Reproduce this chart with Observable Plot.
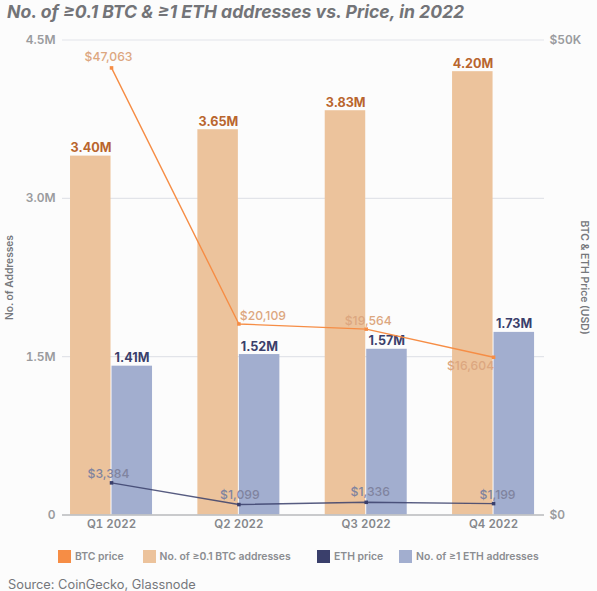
<!DOCTYPE html>
<html>
<head>
<meta charset="utf-8">
<script src="https://cdn.jsdelivr.net/npm/d3@7"></script>
<script src="https://cdn.jsdelivr.net/npm/@observablehq/plot@0.6"></script>
<style>
  html, body { margin: 0; padding: 0; background: #fcfcfc; }
  body { width: 597px; height: 591px; overflow: hidden; font-family: Inter, sans-serif; position: relative; }
  #title { position: absolute; left: 7px; top: 0; height: 24px; line-height: 24px; font-size: 17.6px; font-weight: 700; font-style: italic; color: #737478; white-space: nowrap; }
  #chart { position: absolute; left: 0; top: 30px; }
  #chart svg { background: transparent; display: block; }
  .lg { position: absolute; top: 550px; height: 13px; line-height: 13px; font-size: 10.4px; font-weight: 600; color: #8b8d91; white-space: nowrap; }
  .lg i { display: inline-block; width: 13px; height: 13px; vertical-align: top; margin-right: 4px; }
  #source { position: absolute; left: 8px; top: 577px; font-size: 12.8px; line-height: 16px; color: #75777b; }
</style>
</head>
<body>
<div id="title">No. of ≥0.1 BTC &amp; ≥1 ETH addresses vs. Price, in 2022</div>
<div id="chart"></div>
<div id="legend"></div>
<div id="source">Source: CoinGecko, Glassnode</div>
<script>
const quarters = ["Q1 2022", "Q2 2022", "Q3 2022", "Q4 2022"];
const btcAddresses = [3.40e6, 3.65e6, 3.83e6, 4.20e6];
const ethAddresses = [1.41e6, 1.52e6, 1.57e6, 1.73e6];
const btcPrice = [47063, 20109, 19564, 16604];
const ethPrice = [3384, 1099, 1336, 1199];
const leftTicks = [0, 1.5e6, 3.0e6, 4.5e6];
const leftTickLabels = ["0", "1.5M", "3.0M", "4.5M"];
const priceTicks = [0, 50000];
const priceTickLabels = ["$0", "$50K"];

const colors = { btcLine: "#f68d45", btcBar: "#ecc39c", ethLine: "#3a3f6b", ethBar: "#a2aecf",
                 btcText: "#b9652e", ethText: "#3a3f6b", btcPriceText: "#dca780", ethPriceText: "#80849f" };

// Secondary axis: $50K sits level with 4.5M
const priceToY = 4.5e6 / 50000;
const barW = 0.322;
const idx = quarters.map((_, i) => i);

const btcOffsets = [[-3, -11], [24, -8], [2, -8], [-23, 9]];
const ethOffsets = [[-3, -9], [1, -9], [4, -10], [4, -9]];

const priceLabels = (values, offsets, fill) => idx.map(i =>
  Plot.text([i], {
    x: d => d, y: d => values[d] * priceToY,
    text: d => "$" + d3.format(",")(values[d]),
    dx: offsets[i][0], dy: offsets[i][1],
    fill, fontSize: 12.2, fontWeight: 500
  }));

const chart = Plot.plot({
  width: 597, height: 510,
  marginLeft: 62, marginRight: 53, marginTop: 9.5, marginBottom: 25.5,
  style: { fontFamily: "Inter, sans-serif", background: "transparent" },
  x: { type: "linear", domain: [-0.385, 3.4], axis: null },
  y: { domain: [0, 4.5e6], axis: null },
  marks: [
    Plot.ruleY(leftTicks.slice(1), { stroke: "#e2e4e9", strokeWidth: 1.2 }),
    Plot.rectY(idx, { x1: i => i - barW, x2: i => i, y1: 0, y2: i => btcAddresses[i], fill: colors.btcBar, insetRight: 0.5 }),
    Plot.rectY(idx, { x1: i => i, x2: i => i + barW, y1: 0, y2: i => ethAddresses[i], fill: colors.ethBar, insetLeft: 0.5 }),
    Plot.ruleY([0], { stroke: "#b9babc", strokeWidth: 1.6 }),
    Plot.text(idx, { x: i => i - barW / 2, y: i => btcAddresses[i], text: i => (btcAddresses[i] / 1e6).toFixed(2) + "M",
      dy: -8, fill: colors.btcText, fontSize: 12.6, fontWeight: 700 }),
    Plot.text(idx, { x: i => i + barW / 2, y: i => ethAddresses[i], text: i => (ethAddresses[i] / 1e6).toFixed(2) + "M",
      dy: -8, fill: colors.ethText, fontSize: 12.6, fontWeight: 700 }),
    Plot.lineY(idx, { x: i => i, y: i => btcPrice[i] * priceToY, stroke: colors.btcLine, strokeWidth: 1.4 }),
    Plot.dot(idx, { x: i => i, y: i => btcPrice[i] * priceToY, symbol: "square", r: 2, fill: colors.btcLine }),
    Plot.lineY(idx, { x: i => i, y: i => ethPrice[i] * priceToY, stroke: colors.ethLine, strokeWidth: 1.4, strokeOpacity: 0.85 }),
    Plot.dot(idx, { x: i => i, y: i => ethPrice[i] * priceToY, symbol: "square", r: 2, fill: colors.ethLine }),
    ...priceLabels(btcPrice, btcOffsets, colors.btcPriceText),
    ...priceLabels(ethPrice, ethOffsets, colors.ethPriceText),
    Plot.axisX({ ticks: idx, tickFormat: i => quarters[i], tickSize: 0, tickPadding: 5, label: null,
      fontSize: 11.5, fontWeight: 600, fill: "#85878b" }),
    Plot.axisY({ anchor: "left", ticks: leftTicks, tickFormat: v => leftTickLabels[leftTicks.indexOf(v)], tickSize: 0, tickPadding: 7, label: null,
      fontSize: 12, fontWeight: 600, fill: "#9a9b9e" }),
    Plot.axisY({ anchor: "right", ticks: priceTicks.map(v => v * priceToY), tickFormat: v => priceTickLabels[priceTicks.indexOf(v / priceToY)], tickSize: 0, tickPadding: 5, label: null,
      fontSize: 12, fontWeight: 600, fill: "#9a9b9e" }),
    Plot.text(["No. of Addresses"], { frameAnchor: "left", textAnchor: "middle", rotate: -90, dx: -53, fontSize: 10.2, fontWeight: 600, fill: "#75777b" }),
    Plot.text(["BTC & ETH Price (USD)"], { frameAnchor: "right", textAnchor: "middle", rotate: 90, dx: 40, fontSize: 10.4, fontWeight: 600, fill: "#75777b" })
  ]
});
document.getElementById("chart").appendChild(chart);

const legendItems = [
  ["BTC price", colors.btcLine, 58],
  ["No. of ≥0.1 BTC addresses", colors.btcBar, 142.5],
  ["ETH price", colors.ethLine, 317],
  ["No. of ≥1 ETH addresses", colors.ethBar, 399]
];
const legend = document.getElementById("legend");
for (const [label, color, left] of legendItems) {
  const el = document.createElement("div");
  el.className = "lg";
  el.style.left = left + "px";
  const sw = document.createElement("i");
  sw.style.background = color;
  el.appendChild(sw);
  el.appendChild(document.createTextNode(label));
  legend.appendChild(el);
}
</script>
</body>
</html>
